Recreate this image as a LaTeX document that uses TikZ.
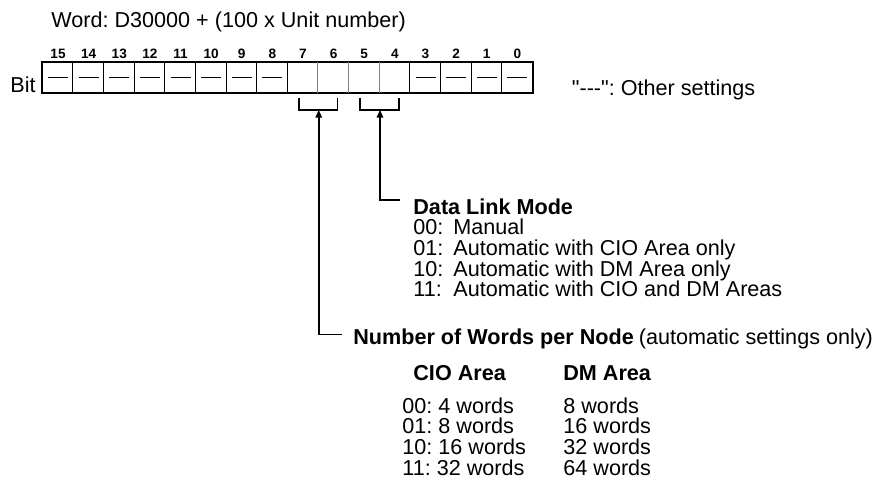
\documentclass[tikz,border=0pt]{standalone}
\usepackage{fontspec}
\setmainfont{Liberation Sans}
\newfontfamily\plainsans{Liberation Sans}
\usetikzlibrary{arrows.meta, calc}

\tikzset{
  txt/.style={anchor=base west, inner sep=0pt, font=\fontsize{10.8}{13}\selectfont\frenchspacing},
  hdr/.style={txt, font=\fontsize{10.8}{13}\selectfont\bfseries},
  bitno/.style={anchor=base, inner sep=0pt, font=\fontsize{6.8}{8}\selectfont\bfseries},
  bitcell/.style={minimum width=15.31pt, minimum height=15.25pt, inner sep=0pt},
  lead/.style={line width=0.8pt, -{Triangle[length=3.8pt, width=3.2pt]}},
  brace/.style={line width=0.8pt},
}

\begin{document}
\begin{tikzpicture}[x=0.5pt, y=-0.5pt]
\useasboundingbox (0,0) rectangle (879,479);

% register word
\node[txt] (word) at (51,27) {Word: D30000 + (100 x Unit number)};
\node[txt] (bitlbl) at (10,92) {Bit};
\foreach \b in {0,...,15} {
  \pgfmathsetmacro\cx{42.7+30.625*(15-\b)+15.3125}
  \node[bitcell] (c\b) at (\cx,77.25) {};
  \node[bitno] (n\b) at (\cx,58.5) {\b};
}
\draw[line width=1pt] (c15.north west) rectangle (c0.south east);
\foreach \b in {0,1,2,3,7,8,...,14}
  \draw[line width=0.55pt] (c\b.north west) -- (c\b.south west);
\foreach \b in {4,5,6}
  \draw[line width=0.45pt, gray] (c\b.north west) -- (c\b.south west);
\foreach \b in {0,1,2,3,8,9,...,15}
  \draw[line width=0.6pt] ([xshift=-5pt]c\b.center) -- ([xshift=5pt]c\b.center);
\node[txt, font=\fontsize{10.8}{13}\plainsans\frenchspacing] (other) at (571.5,95) {"---": Other settings};

% brackets under bits 7-6 and 5-4
\draw[brace] ($(c7.south)+(-4,4.8)$) -- ++(0,12.2) -| ($(c6.south)+(4,4.8)$);
\draw[brace] ($(c5.south)+(-4,4.8)$) -- ++(0,12.2) -| ($(c4.south)+(4,4.8)$);
\coordinate (br76) at ($(c7.south east)+(0,17)$);
\coordinate (br54) at ($(c5.south east)+(0,17)$);

% data link mode
\node[hdr] (dlhead) at (413,214) {Data Link Mode};
\coordinate (dlend) at (400,200);
\draw[lead] (dlend) -| (br54);
\foreach \code/\desc [count=\i] in {00/Manual, 01/Automatic with CIO Area only,
    10/Automatic with DM Area only, 11/Automatic with CIO and DM Areas} {
  \node[txt] (dlc\i) at (413,214+20.7*\i) {\code:};
  \node[txt] (dld\i) at (453,214+20.7*\i) {\desc};
}

% words per node
\node[txt] (nwhead) at (353,344) {\textbf{Number of Words per Node}\hspace{2.5pt}(automatic settings only)};
\coordinate (nwend) at (341.7,334.3);
\draw[lead] (nwend) -| (br76);
\node[hdr] (ciohd) at (413,380) {CIO Area};
\node[hdr] (dmhd) at (563,380) {DM Area};
\foreach \code/\cio/\dm [count=\i] in {00/4/8, 01/8/16, 10/16/32, 11/32/64} {
  \node[txt] (cio\i) at (402,392.3+20.7*\i) {\code: \cio\ words};
  \node[txt] (dm\i) at (563,392.3+20.7*\i) {\dm\ words};
}
\end{tikzpicture}
\end{document}
